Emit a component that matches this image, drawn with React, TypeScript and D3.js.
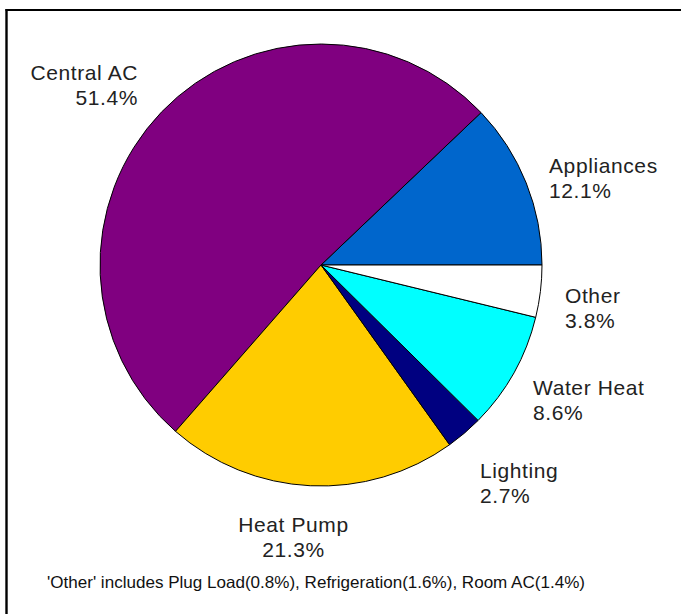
import React from "react";
import * as d3 from "d3";

// Data (counter-clockwise order starting at 3 o'clock)
const categories = ["Appliances", "Central AC", "Heat Pump", "Lighting", "Water Heat", "Other"];
const values = [12.1, 51.4, 21.3, 2.7, 8.6, 3.8];
const colors = ["#0066CC", "#800080", "#FFCC00", "#000080", "#00FFFF", "#FFFFFF"];
const footnote = "'Other' includes Plug Load(0.8%), Refrigeration(1.6%), Room AC(1.4%)";

// Label layout (anchor x, first baseline y, text-anchor)
const labelLayout: [number, number, string][] = [
  [549, 173, "start"],
  [138, 80, "end"],
  [293.5, 532, "middle"],
  [480, 478, "start"],
  [533, 395, "start"],
  [565, 303, "start"],
];

const W = 681;
const H = 614;
const CX = 321;
const CY = 265;
const R = 221;

export default function App() {
  const items = categories.map((c, i) => ({ c, v: values[i], color: colors[i], i }));
  // d3.pie goes clockwise from 12 o'clock; start at 3 o'clock and go counter-clockwise
  const pie = d3
    .pie<any>()
    .sort(null)
    .value((d) => d.v)
    .startAngle(Math.PI / 2)
    .endAngle(Math.PI / 2 - 2 * Math.PI);
  const arcs = pie(items);
  const arc = d3.arc<any>().innerRadius(0).outerRadius(R);
  const font = "'Liberation Sans', Arial, sans-serif";

  return (
    <svg
      width={W}
      height={H}
      style={{ position: "absolute", left: 0, top: 0, background: "#fff" }}
    >
      <rect x={0} y={0} width={W} height={H} fill="#fff" />
      <line x1={5.5} y1={10} x2={W} y2={10} stroke="#000" strokeWidth={2.2} />
      <line x1={6.5} y1={9} x2={6.5} y2={H} stroke="#000" strokeWidth={2.4} />
      <g transform={`translate(${CX},${CY})`}>
        {arcs.map((a, k) => (
          <path
            key={k}
            d={arc(a) || ""}
            fill={a.data.color}
            stroke="#000"
            strokeWidth={1}
            strokeLinejoin="round"
          />
        ))}
      </g>
      {items.map((d, k) => {
        const [x, y, anchor] = labelLayout[k];
        return (
          <text
            key={k}
            x={x}
            y={y}
            textAnchor={anchor as any}
            fontFamily={font}
            fontSize={21}
            letterSpacing={0.6}
            fill="#222"
          >
            <tspan x={x} y={y}>{d.c}</tspan>
            <tspan x={x} y={y + 25}>{d.v.toFixed(1)}%</tspan>
          </text>
        );
      })}
      <text
        x={47}
        y={588}
        fontFamily={font}
        fontSize={16.5}
        fill="#111"
        textLength={538}
        lengthAdjust="spacingAndGlyphs"
      >
        {footnote}
      </text>
    </svg>
  );
}
